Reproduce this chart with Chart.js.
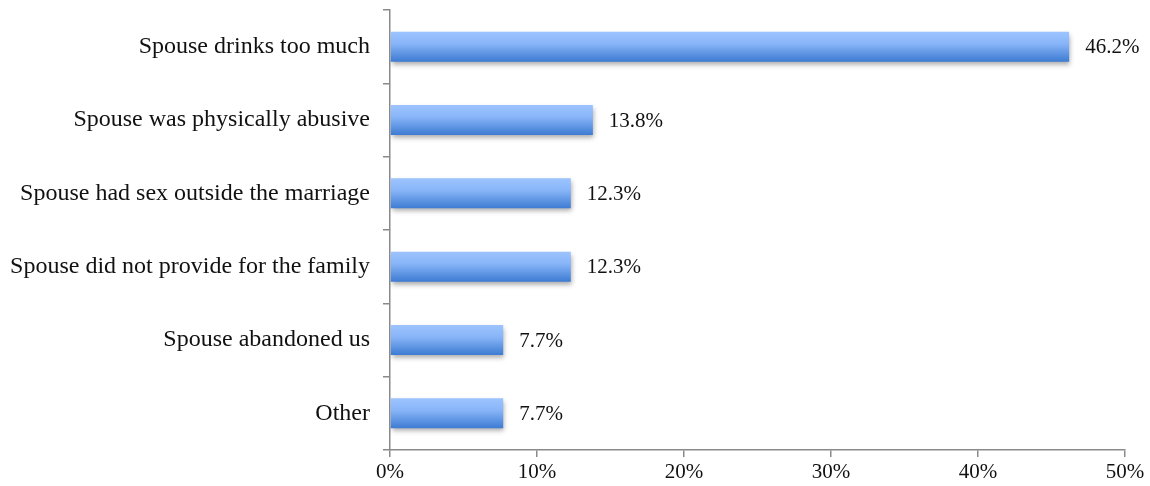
<!DOCTYPE html>
<html>
<head>
<meta charset="utf-8">
<script src="https://cdn.jsdelivr.net/npm/chart.js@4/dist/chart.umd.min.js"></script>
<style>
  html, body { margin: 0; padding: 0; background: #ffffff; }
  canvas { display: block; }
</style>
</head>
<body>
<canvas id="c" width="1150" height="486"></canvas>
<script>
const categories = [
  "Spouse drinks too much",
  "Spouse was physically abusive",
  "Spouse had sex outside the marriage",
  "Spouse did not provide for the family",
  "Spouse abandoned us",
  "Other"
];
const percentages = [46.2, 13.8, 12.3, 12.3, 7.7, 7.7];
const xTicks = [0, 10, 20, 30, 40, 50];

const SERIF = "'Liberation Serif', 'Times New Roman', serif";
const AXIS_GRAY = "#8a8a8a";
const BAR_PCT = 0.41;

// vertical gradient for each bar, computed from the category scale
function barGradient(context) {
  const chart = context.chart;
  const yScale = chart.scales.y;
  if (!yScale || context.dataIndex === undefined) return "#6a9be6";
  const center = yScale.getPixelForValue(context.dataIndex);
  const band = (yScale.bottom - yScale.top) / categories.length;
  const h = band * BAR_PCT;
  if (!isFinite(center) || !isFinite(h) || h <= 0) return "#6a9be6";
  const g = chart.ctx.createLinearGradient(0, center - h / 2, 0, center + h / 2);
  g.addColorStop(0, "#9dc4ff");
  g.addColorStop(0.4, "#88b5f8");
  g.addColorStop(1, "#3d7bd2");
  return g;
}

// soft drop shadow under the bars
const barShadow = {
  id: "barShadow",
  beforeDatasetDraw(chart) {
    const ctx = chart.ctx;
    ctx.save();
    ctx.shadowColor = "rgba(0,0,0,0.35)";
    ctx.shadowBlur = 5;
    ctx.shadowOffsetX = 1;
    ctx.shadowOffsetY = 3;
  },
  afterDatasetDraw(chart) {
    chart.ctx.restore();
  }
};

// percentage label after each bar end
const valueLabels = {
  id: "valueLabels",
  afterDatasetsDraw(chart) {
    const ctx = chart.ctx;
    const meta = chart.getDatasetMeta(0);
    ctx.save();
    ctx.font = "21px " + SERIF;
    ctx.fillStyle = "#111111";
    ctx.textAlign = "left";
    ctx.textBaseline = "middle";
    meta.data.forEach((bar, i) => {
      ctx.fillText(percentages[i].toFixed(1) + "%", bar.x + 16, bar.y + 1);
    });
    ctx.restore();
  }
};

new Chart(document.getElementById("c"), {
  type: "bar",
  data: {
    labels: categories,
    datasets: [{
      data: percentages,
      backgroundColor: barGradient,
      borderWidth: 0,
      barPercentage: BAR_PCT,
      categoryPercentage: 1.0
    }]
  },
  plugins: [barShadow, valueLabels],
  options: {
    indexAxis: "y",
    responsive: false,
    devicePixelRatio: 1,
    animation: false,
    layout: { padding: { top: 10, right: 25, bottom: 0, left: 0 } },
    plugins: {
      legend: { display: false },
      tooltip: { enabled: false }
    },
    scales: {
      x: {
        min: 0,
        max: 50,
        afterBuildTicks(scale) {
          scale.ticks = xTicks.map(v => ({ value: v }));
        },
        afterFit(scale) { scale.height = 36; },
        border: { display: true, color: AXIS_GRAY, width: 1.5 },
        grid: {
          display: true,
          drawOnChartArea: false,
          drawTicks: true,
          tickLength: 7,
          color: AXIS_GRAY,
          lineWidth: 1.5
        },
        ticks: {
          padding: 3,
          color: "#111111",
          font: { family: SERIF, size: 21 },
          maxRotation: 0,
          callback: v => v + "%"
        }
      },
      y: {
        afterFit(scale) {
          scale.width = 390;
          scale.paddingTop = 0;
          scale.paddingBottom = 0;
        },
        border: { display: true, color: AXIS_GRAY, width: 1.5 },
        grid: {
          display: true,
          offset: true,
          drawOnChartArea: false,
          drawTicks: true,
          tickLength: 7,
          color: AXIS_GRAY,
          lineWidth: 1.5
        },
        ticks: {
          padding: 13,
          color: "#111111",
          font: { family: SERIF, size: 24 }
        }
      }
    }
  }
});
</script>
</body>
</html>
